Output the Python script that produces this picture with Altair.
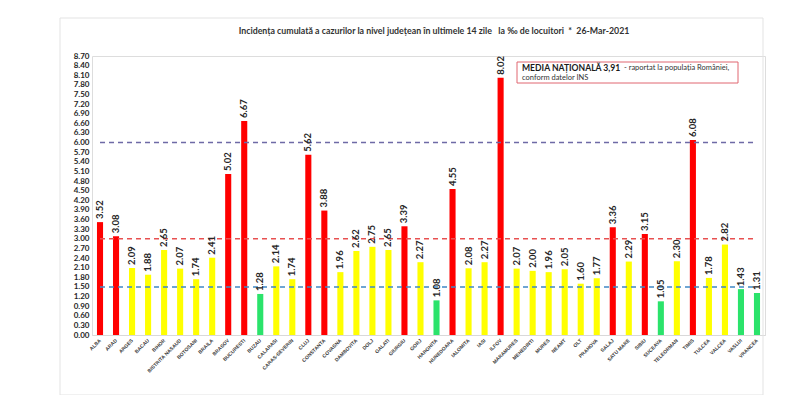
import altair as alt
import pandas as pd

counties = ["ALBA", "ARAD", "ARGES", "BACAU", "BIHOR", "BISTRITA NASAUD", "BOTOSANI",
            "BRAILA", "BRASOV", "BUCURESTI", "BUZAU", "CALARASI", "CARAS-SEVERIN", "CLUJ",
            "CONSTANTA", "COVASNA", "DAMBOVITA", "DOLJ", "GALATI", "GIURGIU", "GORJ",
            "HARGHITA", "HUNEDOARA", "IALOMITA", "IASI", "ILFOV", "MARAMURES", "MEHEDINTI",
            "MURES", "NEAMT", "OLT", "PRAHOVA", "SALAJ", "SATU MARE", "SIBIU", "SUCEAVA",
            "TELEORMAN", "TIMIS", "TULCEA", "VALCEA", "VASLUI", "VRANCEA"]
values = [3.52, 3.08, 2.09, 1.88, 2.65, 2.07, 1.74,
          2.41, 5.02, 6.67, 1.28, 2.14, 1.74, 5.62,
          3.88, 1.96, 2.62, 2.75, 2.65, 3.39, 2.27,
          1.08, 4.55, 2.08, 2.27, 8.02, 2.07, 2.00,
          1.96, 2.05, 1.60, 1.77, 3.36, 2.29, 3.15, 1.05,
          2.30, 6.08, 1.78, 2.82, 1.43, 1.31]
y_ticks = [0.00, 0.30, 0.60, 0.90, 1.20, 1.50, 1.80, 2.10, 2.40, 2.70, 3.00, 3.30,
           3.60, 3.90, 4.20, 4.50, 4.80, 5.10, 5.40, 5.70, 6.00, 6.30, 6.60, 6.90,
           7.20, 7.50, 7.80, 8.10, 8.40, 8.70]
ref_levels = [6.0, 3.0, 1.5]
ref_names = ["prag 6", "prag 3", "prag 1.5"]
NB = "\u00a0"
title_text = ("Incidența cumulată a cazurilor la nivel județean în ultimele 14 zile" + NB * 3
              + "la ‰ de locuitori" + NB * 2 + "*" + NB * 2 + "26-Mar-2021")

df = pd.DataFrame({"judet": counties, "val": values})
df["nivel"] = ["ridicat" if v >= 3 else ("mediu" if v >= 1.5 else "scazut") for v in values]

refs = pd.DataFrame({"y": ref_levels, "name": ref_names,
                     "x1": [counties[0]] * 3, "x2": [counties[-1]] * 3})

W, H = 673, 279

x_axis = alt.Axis(labelAngle=315, labelAlign="right", labelBaseline="middle",
                  labelFont="Liberation Sans", labelFontSize=5, labelFontWeight="bold",
                  labelColor="#404040", ticks=False, domain=True, domainColor="#D9D9D9",
                  labelPadding=4, labelOverlap=False)
y_axis = alt.Axis(values=y_ticks, format=".2f", grid=False, ticks=False, domain=False,
                  labelFont="Lato", labelFontSize=8, labelFontWeight="bold",
                  labelColor="#262626", labelPadding=3, labelOverlap=False)
x_scale = alt.Scale(paddingInner=0.62, paddingOuter=0.31)
y_scale = alt.Scale(domain=[0, 8.7], nice=False)

xs = alt.X("judet:N", sort=counties, title=None, scale=x_scale, axis=x_axis)
ys = alt.Y("val:Q", title=None, scale=y_scale, axis=y_axis)

base = alt.Chart(df)

bars = base.mark_bar().encode(
    x=xs, y=ys,
    color=alt.Color("nivel:N", legend=None,
                    scale=alt.Scale(domain=["ridicat", "mediu", "scazut"],
                                    range=["#FF0000", "#FFFF00", "#2BE36B"]))
)

labels = base.mark_text(angle=270, align="left", baseline="middle", dx=3,
                        font="Lato", fontSize=9.5, fontWeight="bold", color="#262626").encode(
    x=xs, y=ys, text=alt.Text("val:Q", format=".2f")
)

rules = alt.Chart(refs).mark_rule(strokeDash=[5, 4], strokeWidth=1.5).encode(
    x=alt.X("x1:N", sort=counties, title=None, scale=x_scale, axis=x_axis), x2="x2:N",
    y=alt.Y("y:Q", title=None, scale=y_scale, axis=y_axis),
    stroke=alt.Stroke("name:N", legend=None,
                      scale=alt.Scale(domain=ref_names, range=["#6E6AA6", "#E85050", "#3F88C5"]))
)

one = pd.DataFrame({"a": [0]})

frame = alt.Chart(one).mark_rect(fill=None, stroke="#E3E3E3", strokeWidth=1).encode(
    x=alt.value(-32), x2=alt.value(671), y=alt.value(-38), y2=alt.value(339)
)

title = alt.Chart(pd.DataFrame({"t": [title_text]})).mark_text(
    align="center", baseline="middle", font="Lato", fontSize=8.8, fontWeight="bold", color="#333333").encode(
    x=alt.value(342), y=alt.value(-25), text="t:N")

box = alt.Chart(one).mark_rect(fill="white", stroke="#E06670", strokeWidth=1).encode(
    x=alt.value(425), x2=alt.value(646), y=alt.value(6), y2=alt.value(27)
)
t1 = alt.Chart(pd.DataFrame({"t": ["MEDIA NAȚIONALĂ 3,91"]})).mark_text(
    align="left", baseline="middle", font="Lato", fontSize=8.6, fontWeight="bold", color="#1a1a1a").encode(
    x=alt.value(430), y=alt.value(12), text="t:N")
t2 = alt.Chart(pd.DataFrame({"t": ["- raportat la populația României,"]})).mark_text(
    align="left", baseline="middle", font="Lato", fontSize=7.5, color="#333333").encode(
    x=alt.value(532), y=alt.value(12), text="t:N")
t3 = alt.Chart(pd.DataFrame({"t": ["conform datelor INS"]})).mark_text(
    align="left", baseline="middle", font="Lato", fontSize=7.5, color="#333333").encode(
    x=alt.value(430), y=alt.value(22), text="t:N")

chart = alt.layer(frame, bars, rules, labels, box, t1, t2, t3, title).resolve_scale(color="independent").properties(
    width=W, height=H,
    autosize=alt.AutoSizeParams(type="none"),
    padding={"left": 84, "top": 48, "right": 20, "bottom": 60},
).configure_view(stroke=None).configure_axis(labelOverlap=False).configure(background="white")

chart.save("out.html", embed_options={"renderer": "svg", "actions": False})
